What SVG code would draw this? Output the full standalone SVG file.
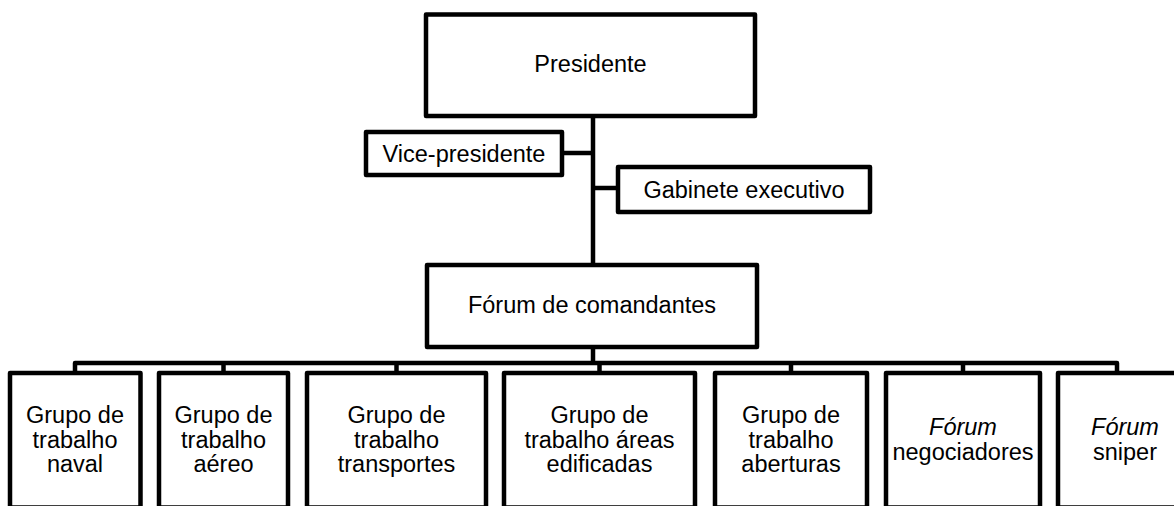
<svg xmlns="http://www.w3.org/2000/svg" width="1174" height="506" viewBox="0 0 1174 506">
<style>
.box{fill:#fff;stroke:#000;stroke-width:4.5;stroke-linejoin:round}
.ln{fill:none;stroke:#000;stroke-width:4.5;stroke-linejoin:round;stroke-linecap:butt}
text{font-family:"Liberation Sans",Arial,sans-serif;font-size:23.5px;fill:#000;text-anchor:middle}
.it{font-style:italic}
</style>
<rect width="1174" height="506" fill="#fff"/>
<g id="connectors">
<path class="ln" d="M593,116 V363"/>
<path class="ln" d="M564,153 H593"/>
<path class="ln" d="M593,188 H618"/>
<path class="ln" d="M75,373 V363 H1117 V373"/>
<path class="ln" d="M223.5,363 V373"/>
<path class="ln" d="M396.5,363 V373"/>
<path class="ln" d="M599.5,363 V373"/>
<path class="ln" d="M791,363 V373"/>
<path class="ln" d="M963,363 V373"/>
</g>
<g id="presidente">
<rect class="box" x="426" y="14.5" width="329" height="101.5"/>
<text x="590.5" y="72">Presidente</text>
</g>
<g id="vice-presidente">
<rect class="box" x="366" y="132" width="196" height="43"/>
<text x="464" y="162">Vice-presidente</text>
</g>
<g id="gabinete-executivo">
<rect class="box" x="618" y="167" width="252" height="45"/>
<text x="744" y="198">Gabinete executivo</text>
</g>
<g id="forum-comandantes">
<rect class="box" x="427" y="265" width="330" height="82"/>
<text x="592" y="313">Fórum de comandantes</text>
</g>
<g id="gt-naval">
<rect class="box" x="10" y="373" width="130.5" height="134.5"/>
<text x="75" y="423">Grupo de</text>
<text x="75" y="447.7">trabalho</text>
<text x="75" y="472.4">naval</text>
</g>
<g id="gt-aereo">
<rect class="box" x="159" y="373" width="129" height="134.5"/>
<text x="223.5" y="423">Grupo de</text>
<text x="223.5" y="447.7">trabalho</text>
<text x="223.5" y="472.4">aéreo</text>
</g>
<g id="gt-transportes">
<rect class="box" x="307" y="373" width="179" height="134.5"/>
<text x="396.5" y="423">Grupo de</text>
<text x="396.5" y="447.7">trabalho</text>
<text x="396.5" y="472.4">transportes</text>
</g>
<g id="gt-areas-edificadas">
<rect class="box" x="504" y="373" width="191" height="134.5"/>
<text x="599.5" y="423">Grupo de</text>
<text x="599.5" y="447.7">trabalho áreas</text>
<text x="599.5" y="472.4">edificadas</text>
</g>
<g id="gt-aberturas">
<rect class="box" x="715" y="373" width="152" height="134.5"/>
<text x="791" y="423">Grupo de</text>
<text x="791" y="447.7">trabalho</text>
<text x="791" y="472.4">aberturas</text>
</g>
<g id="forum-negociadores">
<rect class="box" x="886" y="373" width="154" height="134.5"/>
<text x="963" y="435.3" class="it">Fórum</text>
<text x="963" y="460">negociadores</text>
</g>
<g id="forum-sniper">
<rect class="box" x="1058" y="373" width="130" height="134.5"/>
<text x="1125" y="435.3" class="it">Fórum</text>
<text x="1125" y="460">sniper</text>
</g>
</svg>
